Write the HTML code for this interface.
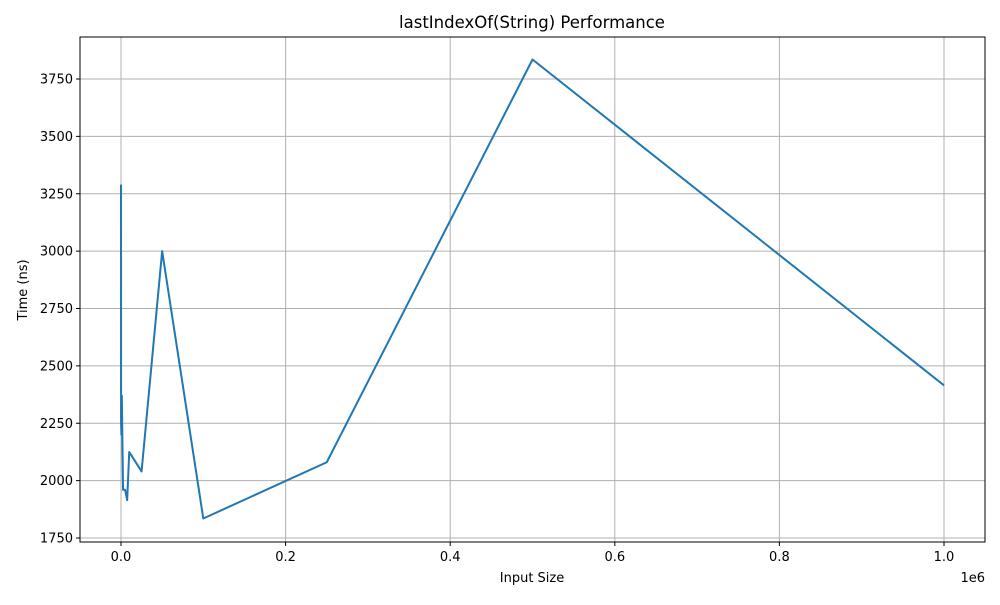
<!DOCTYPE html>
<html><head><meta charset="utf-8"><style>
body{margin:0;background:#fff}
svg text{font-family:"DejaVu Sans","Liberation Sans",sans-serif;fill:#000}
</style></head><body>
<svg id="c" width="1000" height="600" xmlns="http://www.w3.org/2000/svg">
<rect width="1000" height="600" fill="#fff"/>
<g id="grid"></g>
<g id="ticks"></g>
<path id="line" fill="none" stroke="#1f77b4" stroke-width="2" stroke-linejoin="round"/>
<rect x="80" y="37" width="905" height="505" fill="none" stroke="#000" stroke-width="1"/>
<text x="532" y="28" text-anchor="middle" font-size="16.5">lastIndexOf(String) Performance</text>
<text x="532" y="582" text-anchor="middle" font-size="13">Input Size</text>
<text x="27" y="290" text-anchor="middle" font-size="13" transform="rotate(-90 27 290)">Time (ns)</text>
<text x="985" y="582" text-anchor="end" font-size="13">1e6</text>
</svg>
<script>
const sizes=[10,50,100,500,1000,2500,5000,7500,10000,25000,50000,100000,250000,500000,1000000];
const times=[3290,2500,2250,2200,2370,1960,1960,1915,2125,2040,3000,1835,2080,3835,2415];
const xTicks=[0,0.2,0.4,0.6,0.8,1.0];
const xTickLabels=["0.0","0.2","0.4","0.6","0.8","1.0"];
const yTicks=[1750,2000,2250,2500,2750,3000,3250,3500,3750];
const NS='http://www.w3.org/2000/svg';
function X(v){return 121+v/1e6*823;}
function Y(v){return 538-(v-1750)*0.2295;}
const grid=document.getElementById('grid'),ticks=document.getElementById('ticks');
function mk(tag,attrs,parent){const e=document.createElementNS(NS,tag);for(const k in attrs)e.setAttribute(k,attrs[k]);parent.appendChild(e);return e;}
xTicks.forEach((t,i)=>{const x=X(t*1e6);
const g=mk('line',{x1:x,x2:x,y1:37,y2:542,stroke:'#b0b0b0','stroke-width':1},grid);


const tk=mk('line',{x1:x,x2:x,y1:542,y2:546,stroke:'#000'},ticks);


const tx=mk('text',{x:x,y:561,'text-anchor':'middle','font-size':13},ticks);tx.textContent=xTickLabels[i];

});
yTicks.forEach(t=>{const y=Y(t);
const g=mk('line',{x1:80,x2:985,y1:y,y2:y,stroke:'#b0b0b0','stroke-width':1},grid);


const tk=mk('line',{x1:76,x2:80,y1:y,y2:y,stroke:'#000'},ticks);


const tx=mk('text',{x:73,y:y+4.5,'text-anchor':'end','font-size':13},ticks);tx.textContent=t;

});
document.getElementById('line').setAttribute('d',sizes.map((s,i)=>(i?'L':'M')+X(s).toFixed(2)+','+Y(times[i]).toFixed(2)).join(' '));
</script>
</body></html>
